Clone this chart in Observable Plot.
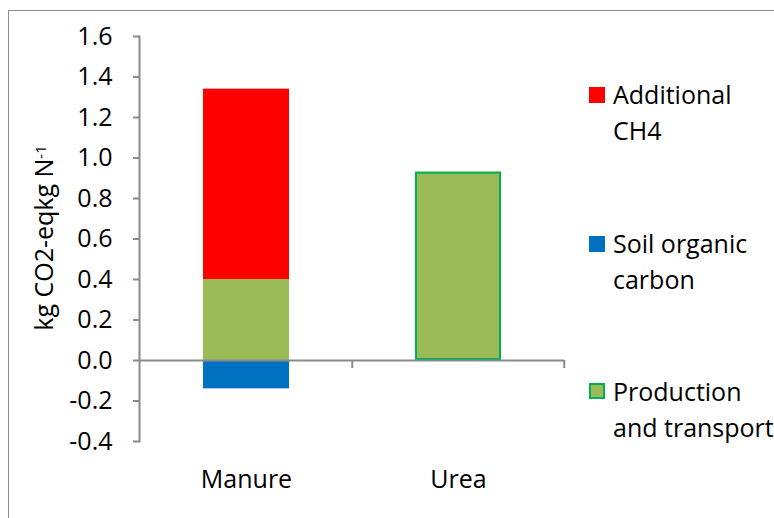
<!DOCTYPE html>
<html>
<head>
<meta charset="utf-8">
<script src="https://cdn.jsdelivr.net/npm/d3@7"></script>
<script src="https://cdn.jsdelivr.net/npm/@observablehq/plot@0.6"></script>
<style>
  html, body { margin: 0; padding: 0; background: #fff; overflow: hidden; }
  #wrap { position: relative; width: 774px; height: 518px; overflow: hidden; font-family: "Open Sans", sans-serif; color: #000; }
  #border { position: absolute; left: 8px; top: 10px; width: 900px; height: 700px; border: 1px solid #8c8c8c; box-sizing: border-box; }
  #chart { position: absolute; left: 0; top: 0; }
  .leg { position: absolute; font-size: 25px; line-height: 36px; white-space: nowrap; }
  .sw { position: absolute; width: 16px; height: 16px; box-sizing: border-box; }
</style>
</head>
<body>
<div id="wrap">
  <div id="border"></div>
  <div id="chart"></div>
  <div id="legend"></div>
</div>
<script>
// ---- data ----
const crops = ["Manure", "Urea"];
const components = ["Production and transport", "Soil organic carbon", "Additional CH4"];
const legendLabels = [["Additional", "CH4"], ["Soil organic", "carbon"], ["Production", "and transport"]];
const legendOrder = ["Additional CH4", "Soil organic carbon", "Production and transport"];
const manureValues = [0.40, -0.14, 0.94];
const ureaValues = [0.93, 0, 0];
const componentColors = ["#9BBB59", "#0070C0", "#FF0000"];
const yTicks = [-0.4, -0.2, 0.0, 0.2, 0.4, 0.6, 0.8, 1.0, 1.2, 1.4, 1.6];
const yLabel = "kg CO2-eqkg N";
const yLabelSup = "-1";

// ---- build table ----
const rows = [];
[manureValues, ureaValues].forEach((vals, i) => {
  vals.forEach((v, j) => {
    if (v !== 0) rows.push({crop: crops[i], component: components[j], value: v});
  });
});
const outlined = rows.filter(d => d.crop === "Urea");

const axisGray = "#8a8a8a";
const padInner = 0.595, padOuter = 0.2975;

// boundary ticks on the category axis
function categoryTicks(index, scales, values, dimensions) {
  const x = scales.x, y = scales.y;
  const n = crops.length;
  const inner = dimensions.width - dimensions.marginLeft - dimensions.marginRight;
  const step = inner / (n - padInner + 2 * padOuter);
  let bw = typeof x.bandwidth === "function" ? x.bandwidth() : x.bandwidth;
  if (!(bw > 0)) bw = step * (1 - padInner);
  const y0 = y(0);
  const g = d3.create("svg:g").attr("stroke", axisGray).attr("stroke-width", 2);
  crops.forEach(c => {
    const right = x(c) + bw / 2 + step / 2;
    if (isFinite(right)) g.append("line").attr("x1", right).attr("x2", right).attr("y1", y0).attr("y2", y0 + 8);
  });
  return g.node();
}

const chart = Plot.plot({
  width: 774,
  height: 518,
  marginLeft: 139,
  marginRight: 210,
  marginTop: 36,
  marginBottom: 77,
  style: {fontFamily: "Open Sans", fontSize: "25px", color: "#000", background: "transparent", overflow: "visible"},
  x: {domain: crops, paddingInner: padInner, paddingOuter: padOuter, axis: null},
  y: {domain: [-0.4, 1.6], axis: null},
  color: {domain: components, range: componentColors},
  marks: [
    Plot.barY(rows, {x: "crop", y: "value", fill: "component"}),
    Plot.barY(outlined, {x: "crop", y: "value", fill: "none", stroke: "#00B050", strokeWidth: 2, inset: 1}),
    Plot.ruleY([0], {stroke: axisGray, strokeWidth: 2}),
    Plot.frame({anchor: "left", stroke: axisGray, strokeWidth: 2}),
    Plot.axisY({ticks: yTicks, tickSize: 6, tickPadding: 21, tickFormat: d => d.toFixed(1), stroke: axisGray, strokeWidth: 2, label: null, fontSize: 25, fill: "#000"}),
    Plot.axisX({tickSize: 0, tickPadding: 29, label: null, fontSize: 25, fill: "#000"}),
    categoryTicks
  ]
});
document.getElementById("chart").appendChild(chart);

// y-axis title with superscript
const svg = d3.select(chart);
const t = svg.append("text")
  .attr("transform", "translate(53,238) rotate(-90)")
  .attr("text-anchor", "middle")
  .attr("font-family", "Open Sans")
  .attr("font-size", 25)
  .attr("fill", "#000");
t.append("tspan").text(yLabel);
t.append("tspan").attr("dy", "-0.45em").attr("font-size", 15).text(yLabelSup);

// legend
const legend = document.getElementById("legend");
const colorOf = c => componentColors[components.indexOf(c)];
const legendPos = [{sq: 87, tx: 76}, {sq: 236, tx: 225}, {sq: 383, tx: 373}];
legendOrder.forEach((c, i) => {
  const sw = document.createElement("div");
  sw.className = "sw";
  sw.style.left = "589px";
  sw.style.top = legendPos[i].sq + "px";
  sw.style.background = colorOf(c);
  if (c === "Production and transport") sw.style.border = "2px solid #00B050";
  legend.appendChild(sw);
  const tx = document.createElement("div");
  tx.className = "leg";
  tx.style.left = "613px";
  tx.style.top = legendPos[i].tx + "px";
  tx.innerHTML = legendLabels[i].map(s => `<div>${s}</div>`).join("");
  legend.appendChild(tx);
});
</script>
</body>
</html>
